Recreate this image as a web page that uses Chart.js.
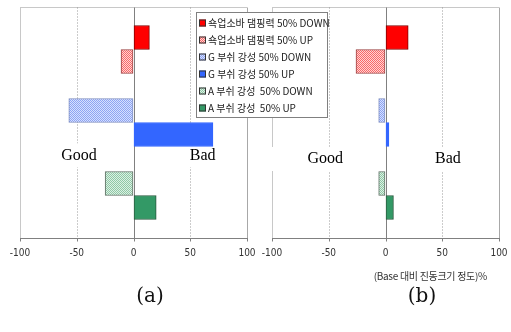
<!DOCTYPE html>
<html><head><meta charset="utf-8">
<script src="https://cdn.jsdelivr.net/npm/chart.js@4.4.1/dist/chart.umd.min.js"></script>
<style>
html,body{margin:0;padding:0;background:#fff;}
#wrap{position:relative;width:511px;height:332px;overflow:hidden;background:#fff;}
canvas{position:absolute;left:0;top:0;}
#ca{z-index:2} #cb{z-index:1}
.cap{position:absolute;width:60px;text-align:center;font-family:"DejaVu Serif","Liberation Serif",serif;font-size:20px;line-height:24px;color:#111;z-index:3;}
#unit{position:absolute;right:24px;top:270px;line-height:12px;white-space:nowrap;font-family:"Noto Sans CJK KR",sans-serif;font-size:10px;color:#333;z-index:3;letter-spacing:-0.3px;}
</style></head>
<body><div id="wrap">
<canvas id="cb" width="511" height="332"></canvas>
<canvas id="ca" width="511" height="332"></canvas>
<div class="cap" style="left:120px;top:283px;">(a)</div>
<div class="cap" style="left:392px;top:283px;">(b)</div>
<div id="unit">(Base 대비 진동크기 정도)%</div>
</div>
<script>
// ---- data ----
const categories = ['쇽업소바 댐핑력', 'G 부쉬 강성', 'A 부쉬 강성'];
const seriesLabels = ['쇽업소바 댐핑력 50% DOWN', '쇽업소바 댐핑력 50% UP', 'G 부쉬 강성 50% DOWN', 'G 부쉬 강성 50% UP', 'A 부쉬 강성  50% DOWN', 'A 부쉬 강성  50% UP'];
const seriesCategory = [0, 0, 1, 1, 2, 2];
const valuesA = [14, -11, -57, 70, -25, 20];
const valuesB = [20, -26, -6, 3, -6, 7];
const xTicks = [-100, -50, 0, 50, 100];
const goodBadTextA = [['Good', -48, 1.45, 80], ['Bad', 61, 1.45, 80]];
const goodBadTextB = [['Good', -53, 1.5, 114], ['Bad', 55, 1.5, 80]];

// ---- styles ----
function pattern(c1, c2) {
  const p = document.createElement('canvas');
  p.width = 2; p.height = 2;
  const g = p.getContext('2d');
  g.fillStyle = c2; g.fillRect(0, 0, 2, 2);
  g.fillStyle = c1; g.fillRect(0, 0, 1, 1); g.fillRect(1, 1, 1, 1);
  return g.createPattern(p, 'repeat');
}
const fills = [
  '#ff0000',
  pattern('#f86868', '#ffd4d4'),
  pattern('#8ea4f2', '#d6e0ff'),
  '#3366ff',
  pattern('#90c8a6', '#dcf0e4'),
  '#339966'
];
const borders = ['#800000', '#9a4040', '#7f8fc0', '#3366ff', '#5f6f64', '#2a5a3e'];
const EXT = 6; // frame extends beyond the category band

function makeDatasets(values) {
  return seriesLabels.map((lab, i) => ({
    label: lab,
    data: categories.map((c, j) => j === seriesCategory[i] ? values[i] : null),
    backgroundColor: fills[i],
    borderColor: borders[i],
    borderWidth: 1,
    borderSkipped: false,
    barThickness: 24,
    skipNull: true
  }));
}

const framePlugin = {
  id: 'frame',
  beforeDatasetsDraw(chart, args, opts) {
    const ctx = chart.ctx, a = chart.chartArea, xs = chart.scales.x, ys = chart.scales.y;
    const top = Math.round(a.top - EXT) + 0.5, bot = Math.round(a.bottom + EXT) + 0.5;
    ctx.save();
    ctx.lineWidth = 1;
    // top frame line
    ctx.strokeStyle = '#c8c8c8';
    ctx.beginPath(); ctx.moveTo(a.left, top); ctx.lineTo(a.right, top); ctx.stroke();
    xTicks.forEach(v => {
      const px = Math.round(xs.getPixelForValue(v)) + 0.5;
      ctx.setLineDash([]);
      if (v === 0) ctx.strokeStyle = '#808080';
      else if (Math.abs(v) === 100) ctx.strokeStyle = v < 0 ? '#c8c8c8' : '#a8a8a8';
      else { ctx.strokeStyle = '#999999'; ctx.setLineDash([1, 2]); }
      ctx.beginPath(); ctx.moveTo(px, top); ctx.lineTo(px, bot); ctx.stroke();
      // tick mark below axis
      ctx.setLineDash([]);
      ctx.strokeStyle = '#808080';
      ctx.beginPath(); ctx.moveTo(px, bot); ctx.lineTo(px, bot + 3); ctx.stroke();
    });
    ctx.setLineDash([]);
    // x axis line
    ctx.strokeStyle = '#808080';
    ctx.beginPath(); ctx.moveTo(a.left, bot); ctx.lineTo(a.right + 1, bot); ctx.stroke();
    // Good / Bad labels
    ctx.font = '16px "Liberation Serif", "Times New Roman", serif';
    ctx.textAlign = 'center'; ctx.textBaseline = 'middle';
    (opts.texts || []).forEach(t => {
      const x = xs.getPixelForValue(t[1]), y = ys.getPixelForValue(t[2]);
      const w = t[3];
      ctx.fillStyle = '#ffffff';
      ctx.fillRect(x - w / 2, y - 12, w, 24);
      ctx.fillStyle = '#000000';
      ctx.fillText(t[0], x, y);
    });
    ctx.restore();
  }
};

const boxLegendPlugin = {
  id: 'boxLegend',
  afterDraw(chart, args, opts) {
    if (!opts.show) return;
    const ctx = chart.ctx;
    const L = 196.5, T = 12.5, W = 131, H = 105;
    ctx.save();
    ctx.fillStyle = '#ffffff';
    ctx.fillRect(L, T, W, H);
    ctx.strokeStyle = '#808080'; ctx.lineWidth = 1;
    ctx.strokeRect(L, T, W, H);
    ctx.font = '10px "Noto Sans CJK KR", sans-serif';
    ctx.textAlign = 'left'; ctx.textBaseline = 'middle';
    chart.data.datasets.forEach((ds, i) => {
      const cy = 23 + i * 17;
      ctx.fillStyle = ds.backgroundColor;
      ctx.fillRect(199, cy - 3.5, 7, 7);
      ctx.strokeStyle = '#333333';
      ctx.strokeRect(199.5, cy - 3, 6, 6);
      ctx.fillStyle = '#222222';
      ctx.fillText(ds.label, 208, cy + 0.5);
    });
    ctx.restore();
  }
};

function makeChart(id, values, pad, texts, showLegend) {
  return new Chart(document.getElementById(id), {
    type: 'bar',
    data: { labels: categories, datasets: makeDatasets(values) },
    options: {
      indexAxis: 'y',
      responsive: false,
      animation: false,
      devicePixelRatio: 1,
      layout: { padding: pad },
      plugins: {
        legend: { display: false },
        tooltip: { enabled: false },
        frame: { texts: texts },
        boxLegend: { show: showLegend }
      },
      scales: {
        x: {
          min: -100, max: 100,
          afterBuildTicks: s => { s.ticks = xTicks.map(v => ({ value: v })); },
          ticks: {
            padding: 3,
            color: '#333333',
            font: { family: '"Liberation Sans Narrow", "DejaVu Sans Condensed", "Liberation Sans", sans-serif', size: 10 }
          },
          grid: { drawOnChartArea: false, drawTicks: true, tickLength: 12, tickColor: 'rgba(0,0,0,0)' },
          border: { display: false }
        },
        y: { display: false, offset: true }
      }
    },
    plugins: [framePlugin, boxLegendPlugin]
  });
}

makeChart('cb', valuesB, { left: 272, right: 12, top: 13, bottom: 70 }, goodBadTextB, false);
makeChart('ca', valuesA, { left: 20, right: 264, top: 13, bottom: 70 }, goodBadTextA, true);
</script>
</body></html>
